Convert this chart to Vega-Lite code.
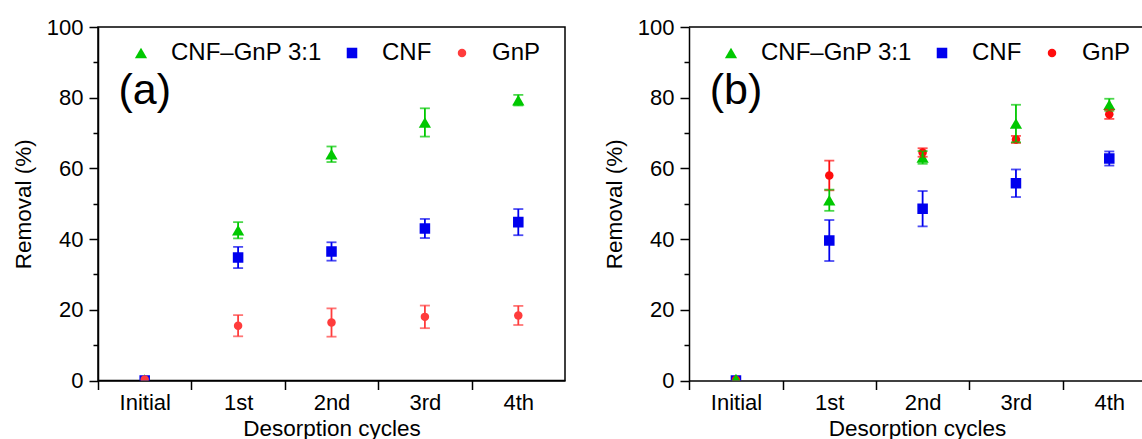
{
  "$schema": "https://vega.github.io/schema/vega-lite/v6.json",
  "autosize": {"type": "pad"},
  "padding": {"left": 11, "top": 15, "right": 0, "bottom": 0},
  "background": "white",
  "config": {
    "font": "Liberation Sans",
    "view": {"stroke": null},
    "axis": {
      "grid": false,
      "domainColor": "black", "domainWidth": 1.5,
      "tickColor": "black", "tickWidth": 1.5,
      "labelColor": "black", "labelFont": "Liberation Sans", "labelFontSize": 22,
      "titleColor": "black", "titleFont": "Liberation Sans", "titleFontSize": 22.5, "titleFontWeight": "normal"
    },
    "legend": {
      "labelFont": "Liberation Sans", "labelFontSize": 24, "labelColor": "black",
      "symbolSize": 64, "symbolStrokeWidth": 0, "labelOffset": 18, "columnPadding": 18, "padding": 0
    }
  },
  "datasets": {
    "a": [
      {"cycle": "Initial", "series": "CNF–GnP 3:1", "value": 0.3, "err": 0},
      {"cycle": "1st", "series": "CNF–GnP 3:1", "value": 42.5, "err": 2.3},
      {"cycle": "2nd", "series": "CNF–GnP 3:1", "value": 64.0, "err": 2.2},
      {"cycle": "3rd", "series": "CNF–GnP 3:1", "value": 73.0, "err": 4.0},
      {"cycle": "4th", "series": "CNF–GnP 3:1", "value": 79.3, "err": 1.5},
      {"cycle": "Initial", "series": "CNF", "value": 0, "err": 0},
      {"cycle": "1st", "series": "CNF", "value": 34.8, "err": 3.0},
      {"cycle": "2nd", "series": "CNF", "value": 36.5, "err": 2.6},
      {"cycle": "3rd", "series": "CNF", "value": 43.0, "err": 2.7},
      {"cycle": "4th", "series": "CNF", "value": 44.8, "err": 3.7},
      {"cycle": "Initial", "series": "GnP", "value": 0.3, "err": 0},
      {"cycle": "1st", "series": "GnP", "value": 15.5, "err": 3.0},
      {"cycle": "2nd", "series": "GnP", "value": 16.4, "err": 4.0},
      {"cycle": "3rd", "series": "GnP", "value": 18.0, "err": 3.2},
      {"cycle": "4th", "series": "GnP", "value": 18.4, "err": 2.7}
    ],
    "b": [
      {"cycle": "Initial", "series": "CNF", "value": 0, "err": 0},
      {"cycle": "1st", "series": "CNF", "value": 39.6, "err": 5.8},
      {"cycle": "2nd", "series": "CNF", "value": 48.6, "err": 5.0},
      {"cycle": "3rd", "series": "CNF", "value": 55.8, "err": 3.9},
      {"cycle": "4th", "series": "CNF", "value": 62.8, "err": 2.0},
      {"cycle": "Initial", "series": "GnP", "value": 0.2, "err": 0},
      {"cycle": "1st", "series": "GnP", "value": 58.0, "err": 4.2},
      {"cycle": "2nd", "series": "GnP", "value": 64.5, "err": 1.2},
      {"cycle": "3rd", "series": "GnP", "value": 68.2, "err": 1.0},
      {"cycle": "4th", "series": "GnP", "value": 75.3, "err": 1.3},
      {"cycle": "Initial", "series": "CNF–GnP 3:1", "value": 0.4, "err": 0},
      {"cycle": "1st", "series": "CNF–GnP 3:1", "value": 51.0, "err": 3.0},
      {"cycle": "2nd", "series": "CNF–GnP 3:1", "value": 63.1, "err": 1.8},
      {"cycle": "3rd", "series": "CNF–GnP 3:1", "value": 72.7, "err": 5.3},
      {"cycle": "4th", "series": "CNF–GnP 3:1", "value": 78.0, "err": 1.7}
    ],
    "labels": [
      {"panel": "a", "cycle": "Initial", "label": "(a)", "ypos": 82},
      {"panel": "b", "cycle": "Initial", "label": "(b)", "ypos": 82}
    ],
    "border": [{"top": 100}]
  },
  "spacing": 37,
  "resolve": {
    "scale": {"color": "independent", "shape": "independent", "size": "independent"},
    "legend": {"color": "independent", "shape": "independent"}
  },
  "hconcat": [
    {
      "width": 467,
      "height": 353.5,
      "view": {"stroke": "black", "strokeWidth": 1.5},
      "layer": [
        {
          "data": {"name": "a"},
          "mark": {"type": "point", "filled": true, "opacity": 1, "clip": true},
          "encoding": {
            "x": {
              "field": "cycle", "type": "ordinal",
              "sort": ["Initial", "1st", "2nd", "3rd", "4th"],
              "scale": {"type": "point", "padding": 0.5},
              "axis": {"title": "Desorption cycles", "labelAngle": 0, "tickSize": 9, "tickOffset": -46.67, "labelOffset": 46.67, "labelPadding": 3, "titlePadding": 4}
            },
            "y": {"field": "value", "type": "quantitative", "scale": {"domain": [0, 100], "nice": false},
                  "axis": {"orient": "left", "values": [0, 20, 40, 60, 80, 100], "title": "Removal (%)", "tickSize": 9, "labelPadding": 6, "titlePadding": 11}},
            "color": {"field": "series", "type": "nominal",
                      "scale": {"domain": ["CNF–GnP 3:1", "CNF", "GnP"], "range": ["#00c800", "#0000ee", "#ff3c3c"]},
                      "legend": {"title": null, "orient": "none", "legendX": 31, "legendY": 14, "direction": "horizontal", "columns": 3}},
            "shape": {"field": "series", "type": "nominal",
                      "scale": {"domain": ["CNF–GnP 3:1", "CNF", "GnP"], "range": ["triangle-up", "square", "circle"]},
                      "legend": {"title": null, "orient": "none", "legendX": 31, "legendY": 14, "direction": "horizontal", "columns": 3}},
            "size": {"field": "series", "type": "ordinal",
                     "scale": {"domain": ["CNF–GnP 3:1", "CNF", "GnP"], "range": [150, 72, 110]},
                     "legend": null},
            "order": {"value": null}
          }
        },
        {
          "data": {"name": "a"},
          "transform": [{"filter": "datum.err > 0"}],
          "mark": {"type": "errorbar", "ticks": true, "size": 10, "thickness": 1.8},
          "encoding": {
            "x": {"field": "cycle", "type": "ordinal", "sort": ["Initial", "1st", "2nd", "3rd", "4th"]},
            "y": {"field": "value", "type": "quantitative",
                  "axis": {"orient": "left", "values": [10, 30, 50, 70, 90], "tickSize": 5, "labels": false, "domain": false, "title": null}},
            "yError": {"field": "err"},
            "color": {"field": "series", "type": "nominal", "legend": null}
          }
        },
        {
          "data": {"name": "labels"},
          "transform": [{"filter": "datum.panel == 'a'"}],
          "mark": {"type": "text", "fontSize": 43, "align": "center", "baseline": "middle", "color": "black"},
          "encoding": {
            "x": {"field": "cycle", "type": "ordinal", "sort": ["Initial", "1st", "2nd", "3rd", "4th"]},
            "y": {"field": "ypos", "type": "quantitative", "axis": null},
            "text": {"field": "label"}
          }
        }
      ],
      "resolve": {"axis": {"y": "independent"}}
    },
    {
      "width": 456,
      "height": 353.5,
      "layer": [
        {
          "data": {"name": "b"},
          "mark": {"type": "point", "filled": true, "opacity": 1, "clip": true},
          "encoding": {
            "x": {
              "field": "cycle", "type": "ordinal",
              "sort": ["Initial", "1st", "2nd", "3rd", "4th"],
              "scale": {"type": "point", "padding": 0.4429, "align": 0.568},
              "axis": {"title": "Desorption cycles", "labelAngle": 0, "tickSize": 9, "tickOffset": -46.67, "labelOffset": 46.67, "labelPadding": 3, "titlePadding": 4}
            },
            "y": {"field": "value", "type": "quantitative", "scale": {"domain": [0, 100], "nice": false},
                  "axis": {"orient": "left", "values": [0, 20, 40, 60, 80, 100], "title": "Removal (%)", "tickSize": 9, "labelPadding": 6, "titlePadding": 11}},
            "color": {"field": "series", "type": "nominal",
                      "scale": {"domain": ["CNF–GnP 3:1", "CNF", "GnP"], "range": ["#00c800", "#0000ee", "#ff0d0d"]},
                      "legend": {"title": null, "orient": "none", "legendX": 30, "legendY": 14, "direction": "horizontal", "columns": 3}},
            "shape": {"field": "series", "type": "nominal",
                      "scale": {"domain": ["CNF–GnP 3:1", "CNF", "GnP"], "range": ["triangle-up", "square", "circle"]},
                      "legend": {"title": null, "orient": "none", "legendX": 30, "legendY": 14, "direction": "horizontal", "columns": 3}},
            "size": {"field": "series", "type": "ordinal",
                     "scale": {"domain": ["CNF–GnP 3:1", "CNF", "GnP"], "range": [150, 72, 110]},
                     "legend": null},
            "order": {"value": null}
          }
        },
        {
          "data": {"name": "b"},
          "transform": [{"filter": "datum.err > 0"}],
          "mark": {"type": "errorbar", "ticks": true, "size": 10, "thickness": 1.8},
          "encoding": {
            "x": {"field": "cycle", "type": "ordinal", "sort": ["Initial", "1st", "2nd", "3rd", "4th"]},
            "y": {"field": "value", "type": "quantitative",
                  "axis": {"orient": "left", "values": [10, 30, 50, 70, 90], "tickSize": 5, "labels": false, "domain": false, "title": null}},
            "yError": {"field": "err"},
            "color": {"field": "series", "type": "nominal", "legend": null}
          }
        },
        {
          "data": {"name": "border"},
          "mark": {"type": "rule", "color": "black", "strokeWidth": 1.5},
          "encoding": {"y": {"field": "top", "type": "quantitative", "axis": null}}
        },
        {
          "data": {"name": "labels"},
          "transform": [{"filter": "datum.panel == 'b'"}],
          "mark": {"type": "text", "fontSize": 43, "align": "center", "baseline": "middle", "color": "black"},
          "encoding": {
            "x": {"field": "cycle", "type": "ordinal", "sort": ["Initial", "1st", "2nd", "3rd", "4th"]},
            "y": {"field": "ypos", "type": "quantitative", "axis": null},
            "text": {"field": "label"}
          }
        }
      ],
      "resolve": {"axis": {"y": "independent"}}
    }
  ]
}
